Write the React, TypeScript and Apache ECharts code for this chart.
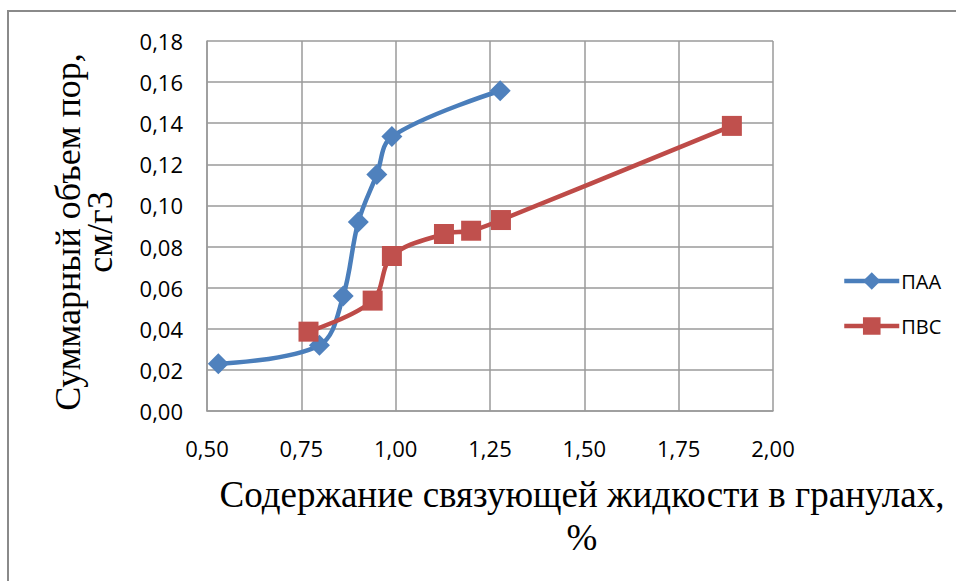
import React, { useEffect, useRef } from "react";
import * as echarts from "echarts";

const seriesNames = ["ПАА", "ПВС"];
const paaX = [0.53, 0.798, 0.861, 0.901, 0.95, 0.99, 1.277];
const paaY = [0.023, 0.032, 0.056, 0.092, 0.115, 0.1335, 0.1558];
const pvsX = [0.769, 0.939, 0.99, 1.128, 1.2, 1.279, 1.891];
const pvsY = [0.0386, 0.0537, 0.0754, 0.0861, 0.0877, 0.0929, 0.1387];
const xTitle = "Содержание связующей жидкости в гранулах,\n%";
const yTitle = "Суммарный объем пор,\nсм/г3";

const fmt = (v: number) => v.toFixed(2).replace(".", ",");

export default function App() {
  const ref = useRef<HTMLDivElement>(null);
  useEffect(() => {
    if (!ref.current) return;
    const chart = echarts.init(ref.current, undefined, { renderer: "svg" });
    const tickFont = { fontFamily: "'Open Sans', sans-serif", fontSize: 22, color: "#000" };
    chart.setOption({
      animation: false,
      backgroundColor: "#fff",
      grid: { left: 207, top: 41, right: 183, bottom: 170, containLabel: false },
      xAxis: {
        type: "value",
        min: 0.5,
        max: 2.0,
        interval: 0.25,
        axisLine: { show: true, lineStyle: { color: "#9a9a9a", width: 1.5 } },
        axisTick: { show: false },
        splitLine: { show: true, lineStyle: { color: "#9a9a9a", width: 1.5 } },
        axisLabel: { ...tickFont, margin: 26, formatter: (v: number) => fmt(v) },
      },
      yAxis: {
        type: "value",
        min: 0,
        max: 0.18,
        interval: 0.02,
        axisLine: { show: true, lineStyle: { color: "#9a9a9a", width: 1.5 } },
        axisTick: { show: false },
        splitLine: { show: true, lineStyle: { color: "#9a9a9a", width: 1.5 } },
        axisLabel: { ...tickFont, margin: 24, formatter: (v: number) => fmt(v) },
      },
      legend: {
        orient: "vertical",
        left: 837,
        top: 266,
        itemWidth: 55,
        itemHeight: 22,
        itemGap: 25,
        lineStyle: { width: 4.5 },
        textStyle: { fontFamily: "'Open Sans', sans-serif", fontSize: 20, color: "#000", padding: [0, 0, 0, -3] },
        data: seriesNames,
      },
      series: [
        {
          name: seriesNames[0],
          type: "line",
          smooth: 0.35,
          data: paaX.map((x, i) => [x, paaY[i]]),
          symbol: "diamond",
          symbolSize: 21,
          lineStyle: { color: "#4A7EBB", width: 4.5 },
          itemStyle: { color: "#4F81BD" },
        },
        {
          name: seriesNames[1],
          type: "line",
          smooth: 0.35,
          data: pvsX.map((x, i) => [x, pvsY[i]]),
          symbol: "rect",
          symbolSize: 20,
          lineStyle: { color: "#BE4B48", width: 4.5 },
          itemStyle: { color: "#C0504D" },
        },
      ],
      graphic: [
        {
          type: "rect",
          shape: { x: 8, y: 11, width: 1000, height: 700 },
          style: { fill: "none", stroke: "#8a8a8a", lineWidth: 2 },
          silent: true,
        },
        {
          type: "text",
          x: 582,
          y: 516,
          style: {
            text: xTitle,
            fontFamily: "'Liberation Serif', 'Times New Roman', serif",
            fontSize: 37,
            lineHeight: 43,
            fill: "#000",
            align: "center",
            verticalAlign: "middle",
          },
        },
        {
          type: "text",
          x: 84,
          y: 232,
          rotation: Math.PI / 2,
          style: {
            text: yTitle,
            fontFamily: "'Liberation Serif', 'Times New Roman', serif",
            fontSize: 36,
            lineHeight: 32,
            fill: "#000",
            align: "center",
            verticalAlign: "middle",
          },
        },
      ],
    });
    return () => chart.dispose();
  }, []);
  return (
    <div
      ref={ref}
      style={{ position: "fixed", left: 0, top: 0, width: 956, height: 581, background: "#fff" }}
    />
  );
}
